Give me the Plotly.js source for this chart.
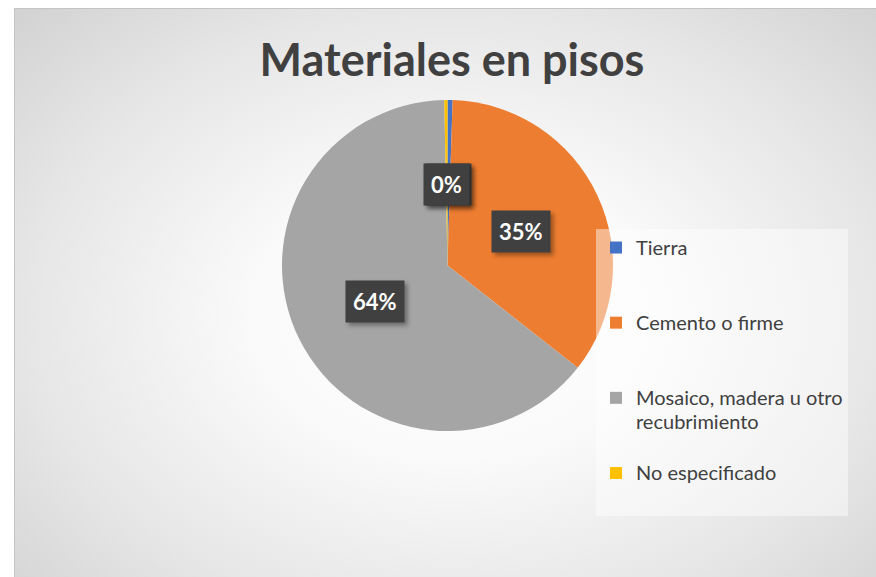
<!DOCTYPE html>
<html>
<head>
<meta charset="utf-8">
<script src="https://cdn.plot.ly/plotly-3.0.1.min.js"></script>
<style>
    html, body { margin: 0; padding: 0; background: #ffffff; overflow: hidden; }
    #wrap { position: relative; width: 876px; height: 577px; overflow: hidden; }
    #bg {
        position: absolute; left: 14px; top: 8px; width: 880px; height: 590px;
        border-left: 1px solid #c4c4c4; border-top: 1px solid #c4c4c4;
        background: radial-gradient(ellipse 75% 80% at 50% 52%, #ffffff 0%, #fafafa 30%, #e6e6e6 65%, #cdcdcd 100%);
    }
    #chart { position: absolute; left: 0; top: 0; width: 876px; height: 577px; }
    /* soft shadow under the data label boxes */
    #chart .annotation rect.bg { filter: drop-shadow(3px 3px 2px rgba(0,0,0,0.35)); }
</style>
</head>
<body>
<div id="wrap">
    <div id="bg"></div>
    <div id="chart"></div>
</div>
<script>
// Data
const categories = ['Tierra', 'Cemento o firme', 'Mosaico, madera u otro recubrimiento', 'No especificado'];
const shares = [0.49, 35.1, 64.1, 0.31];
const sliceColors = ['#4472C4', '#ED7D31', '#A5A5A5', '#FFC000'];

document.addEventListener('DOMContentLoaded', function() {
    drawPie();
});

function drawPie() {
    const W = 876, H = 577;
    // pie domain (square in pixels)
    const dom = { x: [282 / W, 613 / W], y: [1 - 431 / H, 1 - 100 / H] };

    // legend labels: wrap the long one, pad entries to 3 lines so rows are spaced out
    // (last one only to 2, so the legend box ends sooner)
    const legendLabels = categories.map((c, i) => {
        const parts = c === 'Mosaico, madera u otro recubrimiento'
            ? ['Mosaico, madera u otro', 'recubrimiento'] : [c];
        const lines = parts.map(p => '<span style="font-size:20px">' + p + '</span>');
        const n = i === categories.length - 1 ? 2 : 3;
        while (lines.length < n) lines.push(' ');
        return lines.join('<br>');
    });

    const total = shares.reduce((a, b) => a + b, 0);

    const trace = {
        type: 'pie',
        labels: legendLabels,
        values: shares,
        sort: false,
        direction: 'clockwise',
        rotation: 0,
        textinfo: 'none',
        hoverinfo: 'skip',
        marker: { colors: sliceColors, line: { width: 0 } },
        domain: dom
    };

    // data labels: dark boxes at ~49% of radius along each slice's mid angle
    const R = (dom.x[1] - dom.x[0]) * W / 2;
    const cx = (dom.x[0] + dom.x[1]) / 2;
    const cy = (dom.y[0] + dom.y[1]) / 2;
    const annotations = [];
    let cum = 0;
    shares.forEach((v, i) => {
        const mid = (cum + v / 2) / total * 2 * Math.PI;
        cum += v;
        const r = 0.49 * R;
        annotations.push({
            xref: 'paper', yref: 'paper',
            x: cx + r * Math.sin(mid) / W,
            y: cy + r * Math.cos(mid) / H,
            xanchor: 'center', yanchor: 'middle',
            text: '<b>' + Math.round(v / total * 100) + '%</b>', showarrow: false,
            font: { family: 'Lato', size: 22, color: '#ffffff' },
            bgcolor: '#404040', borderpad: 7
        });
    });

    const layout = {
        width: W,
        height: H,
        margin: { l: 0, r: 0, t: 0, b: 0 },
        paper_bgcolor: 'rgba(0,0,0,0)',
        plot_bgcolor: 'rgba(0,0,0,0)',
        title: {
            text: '<b>Materiales en pisos</b>',
            font: { family: 'Lato', size: 45, color: '#404040' },
            x: 452 / W, xanchor: 'center',
            y: 1 - 60 / H, yanchor: 'middle'
        },
        showlegend: true,
        legend: {
            x: 596 / W, xanchor: 'left',
            y: 1 - 229 / H, yanchor: 'top',
            valign: 'top',
            bgcolor: 'rgba(255,255,255,0.45)',
            font: { family: 'Lato', size: 18.5, color: '#404040' }
        },
        annotations: annotations
    };

    Plotly.newPlot('chart', [trace], layout, { displayModeBar: false, staticPlot: true });
}
</script>
</body>
</html>
